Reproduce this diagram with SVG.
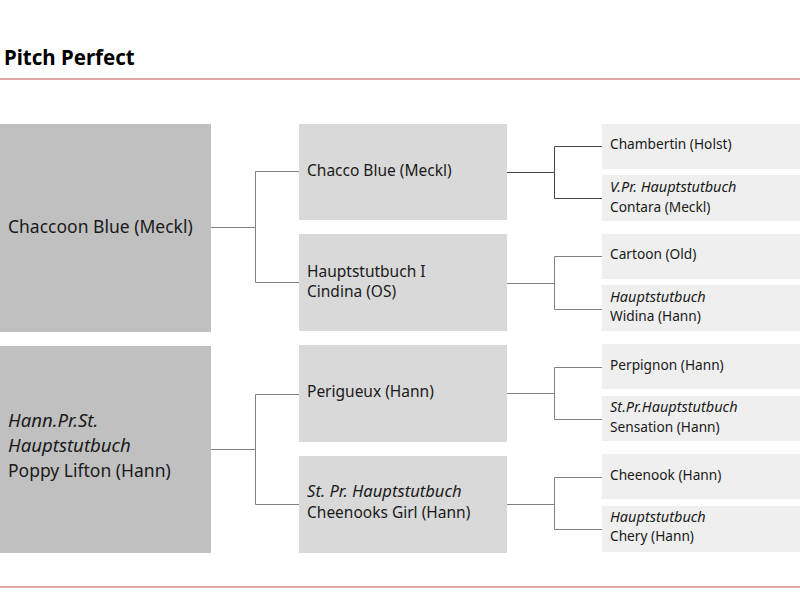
<svg xmlns="http://www.w3.org/2000/svg" width="800" height="600" viewBox="0 0 800 600">
<style>
text{font-family:"Noto Sans","Open Sans","DejaVu Sans",sans-serif;fill:#1a1a1a}
.t{font-size:20.5px;font-weight:bold;fill:#000}
.l1{fill:#c0c0c0}
.l2{fill:#d9d9d9}
.l3{fill:#efefef}
.f1{font-size:17.5px}
.f2{font-size:15.5px}
.f3{font-size:13.7px}
.f1.i{font-size:18.6px}
.f2.i{font-size:16.6px}
.f3.i{font-size:14.5px}
.i{font-style:italic}
.rule{stroke:#c0504d;stroke-width:1}
.c{fill:none;stroke:#808080;stroke-width:1}
</style>
<rect width="800" height="600" fill="#fff"/>
<text class="t" x="4" y="65">Pitch Perfect</text>
<line class="rule" x1="0" y1="79" x2="800" y2="79"/>
<line class="rule" x1="0" y1="587" x2="800" y2="587"/>

<g id="connectors">
<path class="c" d="M211 227.5H255.5M255.5 171.5V282.5M255.5 171.5H299M255.5 282.5H299"/>
<path class="c" d="M211 449.5H255.5M255.5 394.5V504.5M255.5 394.5H299M255.5 504.5H299"/>
<path class="c" style="stroke:#444" d="M507 172.5H554.5M554.5 146.5V198.5M554.5 146.5H602M554.5 198.5H602"/>
<path class="c" d="M507 283.5H554.5M554.5 256.5V309.5M554.5 256.5H602M554.5 309.5H602"/>
<path class="c" d="M507 393.5H554.5M554.5 367.5V419.5M554.5 367.5H602M554.5 419.5H602"/>
<path class="c" d="M507 504.5H554.5M554.5 477.5V529.5M554.5 477.5H602M554.5 529.5H602"/>
</g>

<g id="n1">
<rect class="l1" x="0" y="124" width="211" height="208"/>
<text class="f1" x="8" y="233">Chaccoon Blue (Meckl)</text>
</g>
<g id="n2">
<rect class="l1" x="0" y="346" width="211" height="207"/>
<text class="f1 i" x="8" y="427">Hann.Pr.St.</text>
<text class="f1 i" x="8" y="452">Hauptstutbuch</text>
<text class="f1" x="8" y="477">Poppy Lifton (Hann)</text>
</g>

<g id="n11">
<rect class="l2" x="299" y="124" width="208" height="96"/>
<text class="f2" x="307" y="176">Chacco Blue (Meckl)</text>
</g>
<g id="n12">
<rect class="l2" x="299" y="234" width="208" height="97"/>
<text class="f2" x="307" y="277">Hauptstutbuch I</text>
<text class="f2" x="307" y="297">Cindina (OS)</text>
</g>
<g id="n21">
<rect class="l2" x="299" y="345" width="208" height="97"/>
<text class="f2" x="307" y="397">Perigueux (Hann)</text>
</g>
<g id="n22">
<rect class="l2" x="299" y="456" width="208" height="97"/>
<text class="f2 i" x="307" y="497">St. Pr. Hauptstutbuch</text>
<text class="f2" x="307" y="518">Cheenooks Girl (Hann)</text>
</g>

<g id="n111">
<rect class="l3" x="602" y="124" width="198" height="45"/>
<text class="f3" x="610" y="149">Chambertin (Holst)</text>
</g>
<g id="n112">
<rect class="l3" x="602" y="175" width="198" height="46"/>
<text class="f3 i" x="610" y="192">V.Pr. Hauptstutbuch</text>
<text class="f3" x="610" y="212">Contara (Meckl)</text>
</g>
<g id="n121">
<rect class="l3" x="602" y="234" width="198" height="45"/>
<text class="f3" x="610" y="259">Cartoon (Old)</text>
</g>
<g id="n122">
<rect class="l3" x="602" y="285" width="198" height="46"/>
<text class="f3 i" x="610" y="302">Hauptstutbuch</text>
<text class="f3" x="610" y="321">Widina (Hann)</text>
</g>
<g id="n211">
<rect class="l3" x="602" y="344" width="198" height="45"/>
<text class="f3" x="610" y="370">Perpignon (Hann)</text>
</g>
<g id="n212">
<rect class="l3" x="602" y="396" width="198" height="45"/>
<text class="f3 i" x="610" y="412">St.Pr.Hauptstutbuch</text>
<text class="f3" x="610" y="432">Sensation (Hann)</text>
</g>
<g id="n221">
<rect class="l3" x="602" y="454" width="198" height="45"/>
<text class="f3" x="610" y="480">Cheenook (Hann)</text>
</g>
<g id="n222">
<rect class="l3" x="602" y="506" width="198" height="46"/>
<text class="f3 i" x="610" y="522">Hauptstutbuch</text>
<text class="f3" x="610" y="541">Chery (Hann)</text>
</g>
</svg>
